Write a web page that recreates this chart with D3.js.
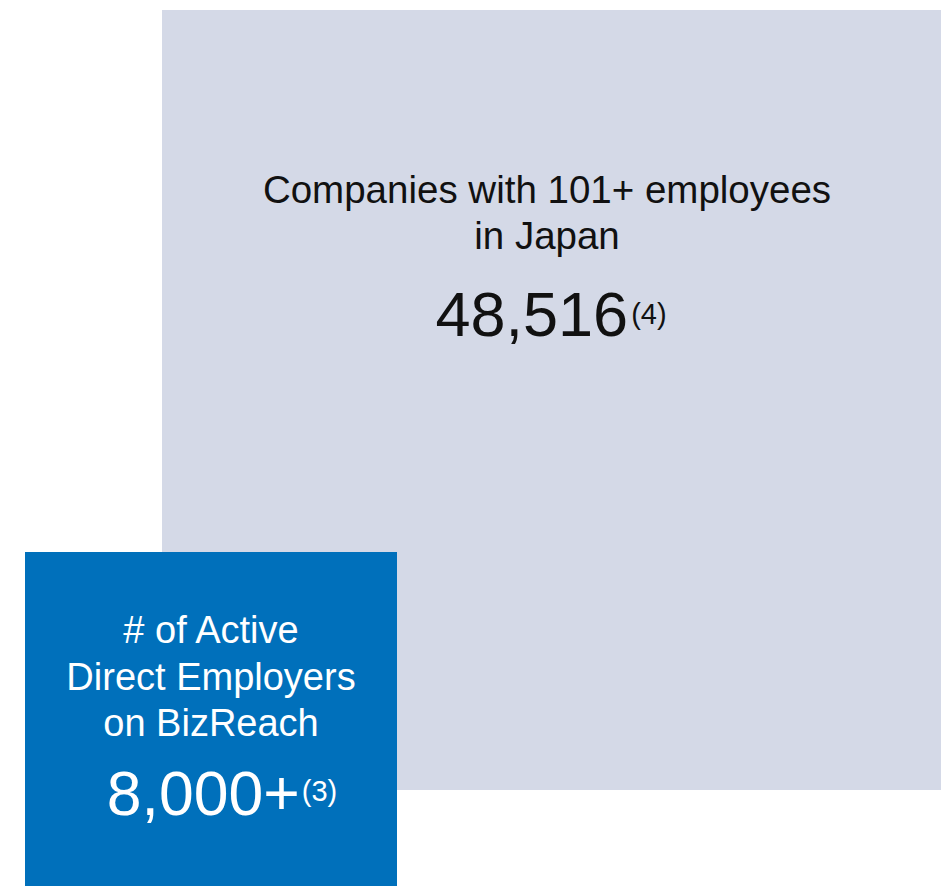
<!DOCTYPE html>
<html>
<head>
<meta charset="utf-8">
<script src="https://cdn.jsdelivr.net/npm/d3@7"></script>
<style>
  body { margin: 0; background: #fff; }
  text { font-family: "Liberation Sans", Arial, sans-serif; }
</style>
</head>
<body>
<div id="chart"></div>
<script>
var width = 941, height = 886;

// data
var boxNames = ["market", "bizreach"];
var boxLabels = [
  ["Companies with 101+ employees", "in Japan"],
  ["# of Active", "Direct Employers", "on BizReach"]
];
var boxValues = [48516, 8000];
var valueSuffix = ["", "+"];
var footnotes = ["(4)", "(3)"];
var boxColors = ["#d4d9e7", "#0070bb"];
var textColors = ["#111111", "#ffffff"];

var svg = d3.select("#chart").append("svg")
    .attr("width", width)
    .attr("height", height);

// pixel layout of the two boxes
var x = d3.scaleLinear().domain([0, 1]).range([0, width]);
var y = d3.scaleLinear().domain([0, 1]).range([0, height]);
var layout = [
  {x0: 162, x1: 941, y0: 10, y1: 790, labelY: 203, lineH: 46, labelSize: 38.5, valueY: 336, valueSize: 63, noteSize: 29, noteDy: -12, noteDx: 3, cx: 547, vcx: 551},
  {x0: 25, x1: 397, y0: 552, y1: 886, labelY: 643, lineH: 46.5, labelSize: 38, valueY: 815, valueSize: 62.5, noteSize: 29, noteDy: -14, noteDx: 2, cx: 211, vcx: 222}
];

var fmt = d3.format(",");

var boxes = svg.selectAll("g.box")
    .data(boxNames)
    .enter().append("g")
    .attr("class", function(d) { return "box " + d; });

boxes.append("rect")
    .attr("x", function(d, i) { return x(layout[i].x0 / width); })
    .attr("y", function(d, i) { return y(layout[i].y0 / height); })
    .attr("width", function(d, i) { return x((layout[i].x1 - layout[i].x0) / width); })
    .attr("height", function(d, i) { return y((layout[i].y1 - layout[i].y0) / height); })
    .attr("fill", function(d, i) { return boxColors[i]; });

boxes.each(function(d, i) {
  var g = d3.select(this), L = layout[i];
  g.selectAll("text.label")
      .data(boxLabels[i])
      .enter().append("text")
      .attr("class", "label")
      .attr("x", L.cx)
      .attr("y", function(t, j) { return L.labelY + j * L.lineH; })
      .attr("text-anchor", "middle")
      .attr("fill", textColors[i])
      .style("font-size", L.labelSize + "px")
      .text(function(t) { return t; });

  var v = g.append("text")
      .attr("class", "value")
      .attr("x", L.vcx)
      .attr("y", L.valueY)
      .attr("text-anchor", "middle")
      .attr("fill", textColors[i])
      .style("font-size", L.valueSize + "px");
  v.append("tspan").text(fmt(boxValues[i]) + valueSuffix[i]);
  v.append("tspan")
      .attr("dx", L.noteDx)
      .attr("dy", L.noteDy)
      .style("font-size", L.noteSize + "px")
      .text(footnotes[i]);
});
</script>
</body>
</html>
